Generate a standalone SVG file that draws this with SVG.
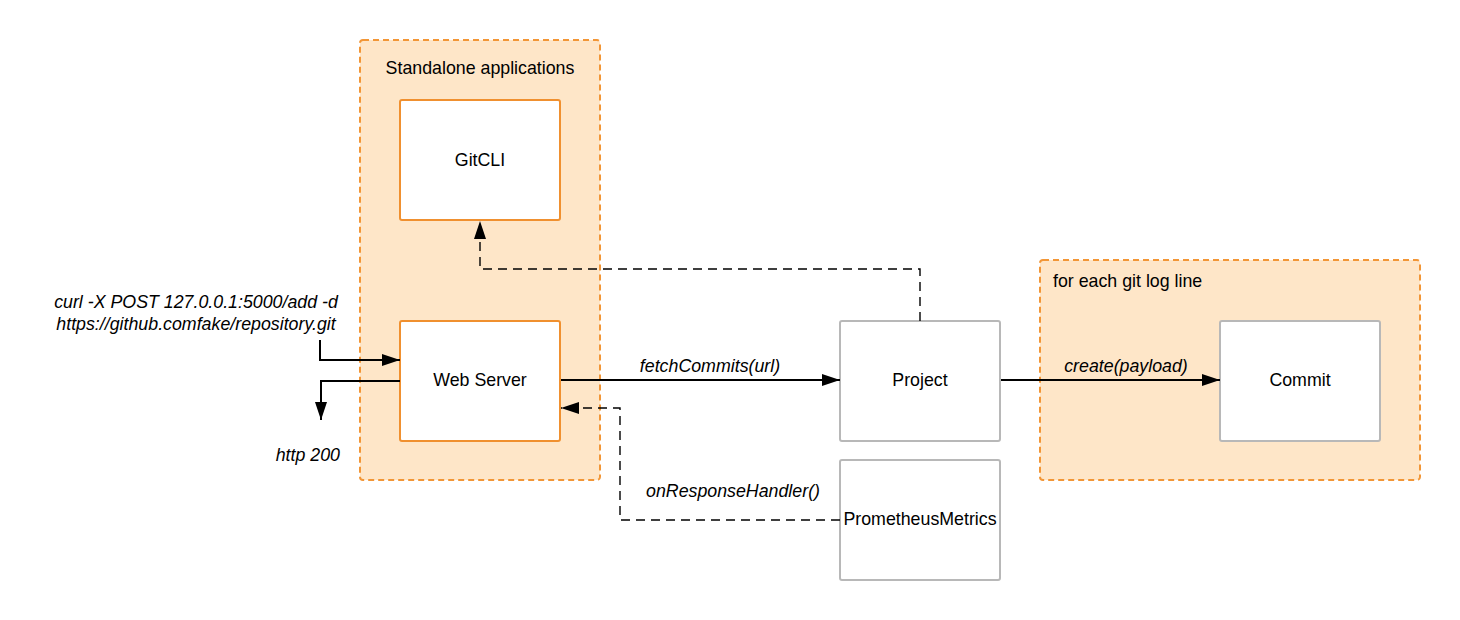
<svg xmlns="http://www.w3.org/2000/svg" width="1460" height="620" viewBox="0 0 1460 620">
<defs>
<style>
.grp{fill:#fee6c8;stroke:#f29636;stroke-width:2;stroke-dasharray:6,4}
.onode{fill:#fff;stroke:#f0902f;stroke-width:2}
.gnode{fill:#fff;stroke:#b8b8b8;stroke-width:2}
text{font-family:"Liberation Sans",Arial,sans-serif;font-size:17.8px;fill:#000}
.lbl{font-style:italic}
.c{text-anchor:middle}
.ln{fill:none;stroke:#000;stroke-width:2}
.dl{fill:none;stroke:#000;stroke-width:1.4;stroke-dasharray:9,6}
</style>
<marker id="ah" markerWidth="18" markerHeight="12" refX="18" refY="6" orient="auto" markerUnits="userSpaceOnUse">
<path d="M0,0 L18,6 L0,12 Z" fill="#000"/>
</marker>
</defs>
<rect width="1460" height="620" fill="#fff"/>
<g id="group-standalone">
<rect class="grp" x="360" y="40" width="240" height="440" rx="3"/>
<text class="c" x="480" y="74">Standalone applications</text>
</g>
<g id="group-foreach">
<rect class="grp" x="1040" y="260" width="380" height="220" rx="3"/>
<text x="1053" y="287">for each git log line</text>
</g>
<g id="node-gitcli">
<rect class="onode" x="400" y="100" width="160" height="120" rx="2"/>
<text class="c" x="480" y="166">GitCLI</text>
</g>
<g id="node-webserver">
<rect class="onode" x="400" y="321" width="160" height="120" rx="2"/>
<text class="c" x="480" y="386">Web Server</text>
</g>
<g id="node-project">
<rect class="gnode" x="840" y="321" width="160" height="120" rx="2"/>
<text class="c" x="920" y="386">Project</text>
</g>
<g id="node-prometheus">
<rect class="gnode" x="840" y="460" width="160" height="120" rx="2"/>
<text class="c" x="920" y="525">PrometheusMetrics</text>
</g>
<g id="node-commit">
<rect class="gnode" x="1220" y="321" width="160" height="120" rx="2"/>
<text class="c" x="1300" y="386">Commit</text>
</g>
<g id="connectors">
<path class="ln" d="M320,340 V360 H400" marker-end="url(#ah)"/>
<path class="ln" d="M400,381 H321 V420" marker-end="url(#ah)"/>
<path class="ln" d="M561,380 H840" marker-end="url(#ah)"/>
<path class="ln" d="M1001,380 H1220" marker-end="url(#ah)"/>
<path class="dl" d="M920,321 V269 H480 V221" marker-end="url(#ah)"/>
<path class="dl" d="M840,520 H620 V408 H561" marker-end="url(#ah)"/>
<text class="lbl c" x="196" y="308">curl -X POST 127.0.0.1:5000/add -d</text>
<text class="lbl c" x="196" y="330">https://github.comfake/repository.git</text>
<text class="lbl" x="340" y="461" text-anchor="end">http 200</text>
<text class="lbl c" x="710" y="372">fetchCommits(url)</text>
<text class="lbl c" x="733" y="497">onResponseHandler()</text>
<text class="lbl c" x="1126" y="372">create(payload)</text>
</g>
</svg>
